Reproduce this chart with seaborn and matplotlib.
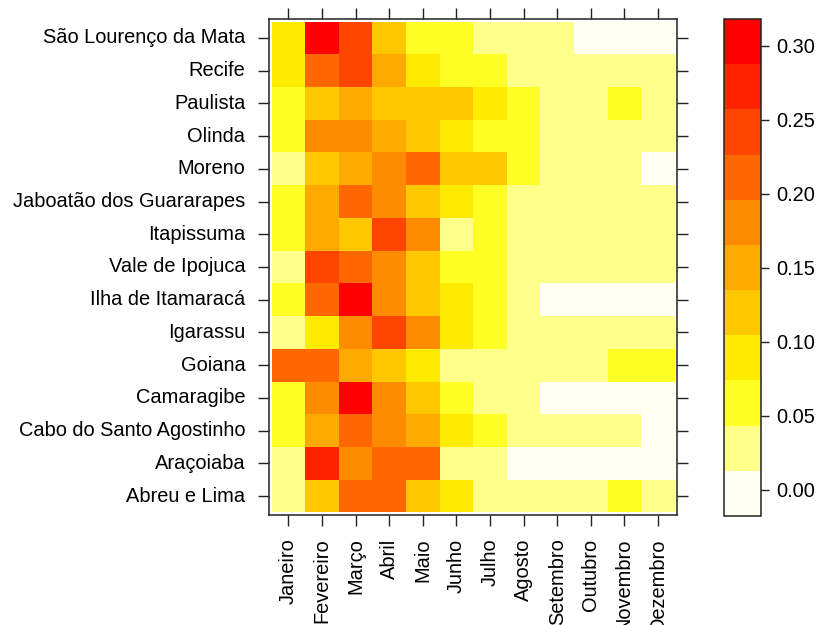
import matplotlib
matplotlib.use("Agg")
import matplotlib.pyplot as plt
import numpy as np
import pandas as pd
import seaborn as sns
from matplotlib.colors import ListedColormap

# Municipalities, top to bottom, and months
municipios = [
    "São Lourenço da Mata", "Recife", "Paulista", "Olinda", "Moreno",
    "Jaboatão dos Guararapes", "Itapissuma", "Vale de Ipojuca",
    "Ilha de Itamaracá", "Igarassu", "Goiana", "Camaragibe",
    "Cabo do Santo Agostinho", "Araçoiaba", "Abreu e Lima",
]
meses = ["Janeiro", "Fevereiro", "Março", "Abril", "Maio", "Junho", "Julho",
         "Agosto", "Setembro", "Outubro", "Novembro", "Dezembro"]

# Monthly proportions per municipality
sao_lourenco = [0.09, 0.30, 0.24, 0.12, 0.06, 0.06, 0.03, 0.03, 0.03, 0.00, 0.00, 0.00]
recife       = [0.09, 0.21, 0.24, 0.15, 0.09, 0.06, 0.06, 0.03, 0.03, 0.03, 0.03, 0.03]
paulista     = [0.06, 0.12, 0.15, 0.12, 0.12, 0.12, 0.09, 0.06, 0.03, 0.03, 0.06, 0.03]
olinda       = [0.06, 0.18, 0.18, 0.15, 0.12, 0.09, 0.06, 0.06, 0.03, 0.03, 0.03, 0.03]
moreno       = [0.03, 0.12, 0.15, 0.18, 0.21, 0.12, 0.12, 0.06, 0.03, 0.03, 0.03, 0.00]
jaboatao     = [0.06, 0.15, 0.21, 0.18, 0.12, 0.09, 0.06, 0.03, 0.03, 0.03, 0.03, 0.03]
itapissuma   = [0.06, 0.15, 0.12, 0.24, 0.18, 0.03, 0.06, 0.03, 0.03, 0.03, 0.03, 0.03]
vale_ipojuca = [0.03, 0.24, 0.21, 0.18, 0.12, 0.06, 0.06, 0.03, 0.03, 0.03, 0.03, 0.03]
itamaraca    = [0.06, 0.21, 0.30, 0.18, 0.12, 0.09, 0.06, 0.03, 0.00, 0.00, 0.00, 0.00]
igarassu     = [0.03, 0.09, 0.18, 0.24, 0.18, 0.09, 0.06, 0.03, 0.03, 0.03, 0.03, 0.03]
goiana       = [0.21, 0.21, 0.15, 0.12, 0.09, 0.03, 0.03, 0.03, 0.03, 0.03, 0.06, 0.06]
camaragibe   = [0.06, 0.18, 0.30, 0.18, 0.12, 0.06, 0.03, 0.03, 0.00, 0.00, 0.00, 0.00]
cabo         = [0.06, 0.15, 0.21, 0.18, 0.15, 0.09, 0.06, 0.03, 0.03, 0.03, 0.03, 0.00]
aracoiaba    = [0.03, 0.27, 0.18, 0.21, 0.21, 0.03, 0.03, 0.00, 0.00, 0.00, 0.00, 0.00]
abreu_lima   = [0.03, 0.12, 0.21, 0.21, 0.12, 0.09, 0.03, 0.03, 0.03, 0.03, 0.06, 0.03]

cbar_ticks = [0.00, 0.05, 0.10, 0.15, 0.20, 0.25, 0.30]

tabela = pd.DataFrame(
    [sao_lourenco, recife, paulista, olinda, moreno, jaboatao, itapissuma,
     vale_ipojuca, itamaraca, igarassu, goiana, camaragibe, cabo,
     aracoiaba, abreu_lima],
    index=municipios, columns=meses,
)

# Eleven-step heat palette, light to dark
cores = ["#FFFFF3", "#FFFF8C", "#FFFF26", "#FFEB00", "#FFC800", "#FFAA00",
         "#FF8B00", "#FF6700", "#FF4500", "#FF2300", "#FF0000"]
paleta = ListedColormap(cores)
vmin, vmax = -0.0176, 0.318

plt.rcParams["font.family"] = ["Liberation Sans", "DejaVu Sans"]
fs = 14.4
plt.rcParams["font.size"] = fs

W, H = 819, 625
fig = plt.figure(figsize=(W / 100, H / 100), dpi=100)
ax = fig.add_axes([269 / W, 1 - 515 / H, (677.3 - 269) / W, (515 - 19) / H])
cax = fig.add_axes([724 / W, 1 - 516 / H, 36.7 / W, (516 - 19) / H])

sns.heatmap(tabela, ax=ax, cmap=paleta, vmin=vmin, vmax=vmax,
            cbar_ax=cax, cbar_kws={"ticks": cbar_ticks, "format": "%.2f"},
            linewidths=0)

ax.set_xlim(-0.075, 12.075)
ax.set_ylim(15.08, -0.08)
ax.set_xlabel("")
ax.set_ylabel("")
for s in ax.spines.values():
    s.set_visible(True)
    s.set_linewidth(1.1)
    s.set_color("#222222")

ax.tick_params(axis="both", which="major", direction="out", length=8,
               width=1, color="#222222", pad=9, labelsize=fs,
               top=True, right=True, labeltop=False, labelright=False)
plt.setp(ax.get_yticklabels(), rotation=0, ha="right")
plt.setp(ax.get_xticklabels(), rotation=90, ha="center", va="top")

cbar = ax.collections[0].colorbar
cbar.outline.set_visible(True)
cbar.outline.set_linewidth(1.1)
cbar.outline.set_edgecolor("#222222")
cbar.ax.tick_params(direction="out", length=5.5, width=1, color="#222222",
                    pad=6, labelsize=fs)

fig.savefig("out.png", dpi=100)
